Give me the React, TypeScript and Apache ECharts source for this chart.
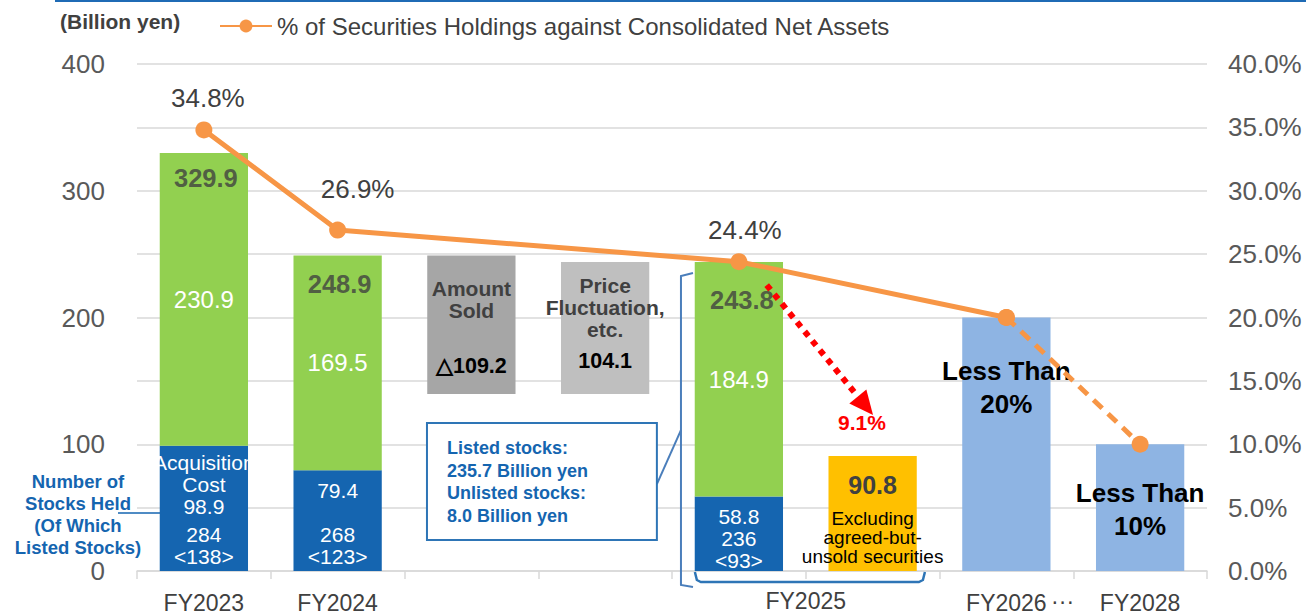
import React, { useEffect, useRef } from 'react';
import * as echarts from 'echarts';

// ---------- data ----------
const categories = ['FY2023', 'FY2024', 'Amount Sold', 'Price Fluctuation', 'FY2025', 'FY2025 Excluding', 'FY2026', 'FY2028'];
const axisLabelNames = ['FY2023', 'FY2024', '', '', '', '', 'FY2026', 'FY2028'];
const acquisitionCost = [98.9, 79.4, null, null, 58.8, null, null, null];
const unrealizedGain = [230.9, 169.5, null, null, 184.9, null, null, null];
const totalHoldings = [329.9, 248.9, null, null, 243.8, null, null, null];
const stocksHeld = [284, 268, null, null, 236, null, null, null];
const listedStocksHeld = [138, 123, null, null, 93, null, null, null];
const waterfallBase = [null, null, 139.7, 139.7, null, null, null, null];
const waterfallChange = [null, null, 109.2, 104.1, null, null, null, null];
const targetBars = [null, null, null, null, null, 90.8, 200, 100];
const holdingRatio = [34.8, 26.9, null, null, 24.4, null, 20.0, null];
const targetRatio = [null, null, null, null, null, null, 20.0, 10.0];
const leftTickLabels = [0, 100, 200, 300, 400];
const listedStocksValue = 235.7;
const unlistedStocksValue = 8.0;
const excludingRatio = 9.1;

const LEGEND_NAME = '% of Securities Holdings against Consolidated Net Assets';
const FONT = "'Liberation Sans', Arial, sans-serif";
const C_BLUE = '#1565B0';
const C_GREEN = '#92D050';
const C_GRAY_D = '#A6A6A6';
const C_GRAY_L = '#BFBFBF';
const C_ORANGE_BAR = '#FFC000';
const C_LIGHT_BLUE = '#8EB4E3';
const C_LINE = '#F79646';
const C_TEXT = '#404040';
const C_AXIS = '#595959';
const C_GRID = '#D9D9D9';

function buildOption() {
  const blueRich = {
    w: { color: '#fff', fontSize: 21, lineHeight: 22, fontFamily: FONT },
    s: { fontSize: 6, lineHeight: 6 },
  };
  const blueFormatters: Record<number, string> = {
    0: `{w|Acquisition}\n{w|Cost}\n{w|${acquisitionCost[0]}}\n{s| }\n{w|${stocksHeld[0]}}\n{w|<${listedStocksHeld[0]}>}`,
    1: `{w|${acquisitionCost[1]}}\n{w| }\n{w|${stocksHeld[1]}}\n{w|<${listedStocksHeld[1]}>}`,
    4: `{w|${acquisitionCost[4]}}\n{w|${stocksHeld[4]}}\n{w|<${listedStocksHeld[4]}>}`,
  };
  const blueData = acquisitionCost.map((v, i) =>
    v == null
      ? null
      : {
          value: v,
          label: {
            show: true,
            position: 'insideBottom',
            distance: i === 4 ? 0 : 4,
            formatter: blueFormatters[i],
            rich: blueRich,
          },
        }
  );

  const greenData = unrealizedGain.map((v) =>
    v == null
      ? null
      : {
          value: v,
          label: { show: true, position: 'inside', color: '#fff', fontSize: 24, fontFamily: FONT, formatter: v.toFixed(1) },
        }
  );

  const headStyle = { fontSize: 21, fontWeight: 'bold', color: C_TEXT, lineHeight: 22, fontFamily: FONT };
  const valStyle = { fontSize: 21.5, fontWeight: 'bold', color: '#000', lineHeight: 22, fontFamily: FONT };
  const changeData = waterfallChange.map((v, i) => {
    if (v == null) return null;
    if (i === 2) {
      return {
        value: v,
        itemStyle: { color: C_GRAY_D },
        label: {
          show: true,
          position: 'insideTop',
          distance: 22,
          formatter: `{h|Amount}\n{h|Sold}\n{s|}\n{v|△${v.toFixed(1)}}`,
          rich: { h: headStyle, v: valStyle, s: { fontSize: 10, lineHeight: 33 } },
        },
      };
    }
    return {
      value: v,
      itemStyle: { color: C_GRAY_L },
      label: {
        show: true,
        position: 'insideTop',
        distance: 13,
        formatter: `{h|Price}\n{h|Fluctuation,}\n{h|etc.}\n{s|}\n{v|${v.toFixed(1)}}`,
        rich: { h: headStyle, v: valStyle, s: { fontSize: 6, lineHeight: 9 } },
      },
    };
  });

  const targetData = targetBars.map((v, i) => {
    if (v == null) return null;
    if (i === 5) {
      return {
        value: v,
        itemStyle: { color: C_ORANGE_BAR },
        label: {
          show: true,
          position: 'insideTop',
          distance: 14,
          formatter: `{v|${v.toFixed(1)}}\n{s|}\n{t|Excluding}\n{t|agreed-but-}\n{t|unsold securities}`,
          rich: {
            v: { fontSize: 25, fontWeight: 'bold', color: C_TEXT, lineHeight: 30, fontFamily: FONT },
            s: { fontSize: 6, lineHeight: 9 },
            t: { fontSize: 19, color: '#000', lineHeight: 19, fontFamily: FONT },
          },
        },
      };
    }
    const pct = targetRatio[i];
    return {
      value: v,
      itemStyle: { color: C_LIGHT_BLUE },
      label: {
        show: true,
        position: 'insideTop',
        distance: i === 6 ? 37 : 32,
        formatter: `Less Than\n${pct}%`,
        fontSize: 26,
        fontWeight: 'bold',
        color: '#000',
        lineHeight: 33,
        fontFamily: FONT,
      },
    };
  });

  const totalOffsets: Record<number, number[]> = { 0: [2, 25], 1: [2, 28], 4: [3, 38] };
  const totalData = totalHoldings.map((v, i) =>
    v == null
      ? null
      : {
          value: v,
          label: {
            show: true,
            position: 'inside',
            offset: totalOffsets[i],
            formatter: v.toFixed(1),
            fontSize: 25.5,
            fontWeight: 'bold',
            color: C_TEXT,
            fontFamily: FONT,
          },
        }
  );

  const ratioOffsets: Record<number, number[]> = { 0: [4, -32], 1: [20, -41], 4: [6, -32] };
  const ratioData = holdingRatio.map((v, i) =>
    v == null
      ? null
      : {
          value: v,
          label: ratioOffsets[i]
            ? {
                show: true,
                position: 'inside',
                offset: ratioOffsets[i],
                formatter: `${v.toFixed(1)}%`,
                fontSize: 26,
                color: C_TEXT,
                fontFamily: FONT,
              }
            : { show: false },
        }
  );

  const renderAnnotations = (params: any, api: any) => {
    const c = (x: number, y: number) => api.coord([x, y]);
    const bracketColor = '#4A7EBB';
    const braceColor = '#2E75B6';
    // left bracket around FY2025 bar
    const bracket = [c(3.657, 235.1), c(3.567, 232.7), c(3.567, -11.0), c(3.657, -12.6)];
    // bottom brace under FY2025 bars
    const brace = [c(3.671, -0.8), c(3.686, -7.1), c(3.716, -8.7), c(5.346, -8.7), c(5.376, -7.1), c(5.391, -0.8)];
    // callout box
    const b1 = c(1.668, 116.8);
    const b2 = c(3.387, 24.5);
    const conn1 = c(3.387, 68.6);
    const conn2 = c(3.567, 111.2);
    const txt = c(1.818, 106.0);
    // arrow
    const s = c(4.208, 225.6);
    const t = c(5.003, 123);
    const dx = t[0] - s[0];
    const dy = t[1] - s[1];
    const len = Math.sqrt(dx * dx + dy * dy);
    const ux = dx / len;
    const uy = dy / len;
    const headLen = 24;
    const headHalf = 11;
    const bx = t[0] - ux * headLen;
    const by = t[1] - uy * headLen;
    const pct = c(4.92, 116.8);
    const axis0 = c(4.5, 0);
    const dots = c(6.42, 0);
    return {
      type: 'group',
      children: [
        { type: 'polyline', shape: { points: bracket }, style: { stroke: bracketColor, lineWidth: 2, fill: 'none' } },
        { type: 'polyline', shape: { points: brace }, style: { stroke: braceColor, lineWidth: 2.5, fill: 'none' } },
        { type: 'line', shape: { x1: conn1[0], y1: conn1[1], x2: conn2[0], y2: conn2[1] }, style: { stroke: bracketColor, lineWidth: 2 } },
        {
          type: 'rect',
          shape: { x: b1[0], y: b1[1], width: b2[0] - b1[0], height: b2[1] - b1[1] },
          style: { fill: '#fff', stroke: braceColor, lineWidth: 2 },
        },
        {
          type: 'text',
          x: txt[0],
          y: txt[1],
          style: {
            text: `Listed stocks:\n${listedStocksValue.toFixed(1)} Billion yen\nUnlisted stocks:\n${unlistedStocksValue.toFixed(1)} Billion yen`,
            fill: C_BLUE,
            fontSize: 18,
            fontWeight: 'bold',
            fontFamily: FONT,
            lineHeight: 22.7,
            align: 'left',
            verticalAlign: 'top',
          },
        },
        {
          type: 'line',
          shape: { x1: s[0], y1: s[1], x2: bx, y2: by },
          style: { stroke: '#FF0000', lineWidth: 6, lineDash: [6, 6] },
        },
        {
          type: 'polygon',
          shape: {
            points: [
              [t[0], t[1]],
              [bx - uy * headHalf, by + ux * headHalf],
              [bx + uy * headHalf, by - ux * headHalf],
            ],
          },
          style: { fill: '#FF0000' },
        },
        {
          type: 'text',
          x: pct[0],
          y: pct[1],
          style: {
            text: `${excludingRatio}%`,
            fill: '#FF0000',
            fontSize: 21,
            fontWeight: 'bold',
            fontFamily: FONT,
            align: 'center',
            verticalAlign: 'middle',
          },
        },
        {
          type: 'text',
          x: axis0[0],
          y: axis0[1] + 30,
          style: { text: 'FY2025', fill: C_TEXT, fontSize: 23, fontFamily: FONT, align: 'center', verticalAlign: 'middle' },
        },
        {
          type: 'text',
          x: dots[0],
          y: dots[1] + 30,
          style: { text: '···', fill: C_TEXT, fontSize: 23, fontFamily: FONT, align: 'center', verticalAlign: 'middle' },
        },
      ],
    };
  };

  return {
    animation: false,
    backgroundColor: '#fff',
    textStyle: { fontFamily: FONT },
    grid: { left: 137, right: 99, top: 64, bottom: 43, containLabel: false },
    legend: {
      data: [LEGEND_NAME],
      left: 214,
      top: 9,
      itemWidth: 52,
      itemHeight: 16,
      textStyle: { fontSize: 24, color: C_TEXT, fontFamily: FONT },
    },
    xAxis: [
      {
        type: 'category',
        data: categories,
        boundaryGap: true,
        axisLine: { lineStyle: { color: C_GRID, width: 1.5 } },
        axisTick: { show: true, length: 8, interval: 0, lineStyle: { color: C_GRID, width: 1.5 } },
        axisLabel: {
          interval: 0,
          margin: 20,
          fontSize: 23,
          color: C_TEXT,
          fontFamily: FONT,
          formatter: (v: string) => axisLabelNames[categories.indexOf(v)] || '',
        },
      },
      { type: 'value', min: -0.5, max: 7.5, show: false },
    ],
    yAxis: [
      {
        type: 'value',
        min: 0,
        max: 400,
        interval: 50,
        axisLine: { show: false },
        axisTick: { show: false },
        axisLabel: {
          margin: 32,
          fontSize: 26,
          color: C_AXIS,
          fontFamily: FONT,
          formatter: (v: number) => (leftTickLabels.indexOf(v) >= 0 ? String(v) : ''),
        },
        splitLine: { lineStyle: { color: C_GRID, width: 1.5 } },
      },
      {
        type: 'value',
        min: 0,
        max: 40,
        interval: 5,
        axisLine: { show: false },
        axisTick: { show: false },
        splitLine: { show: false },
        axisLabel: { margin: 21, fontSize: 26, color: C_AXIS, fontFamily: FONT, formatter: (v: number) => `${v.toFixed(1)}%` },
      },
    ],
    series: [
      {
        name: 'base',
        type: 'bar',
        stack: 'holdings',
        barWidth: '66%',
        data: waterfallBase,
        itemStyle: { color: 'transparent' },
        silent: true,
      },
      { name: 'Acquisition Cost', type: 'bar', stack: 'holdings', barWidth: '66%', data: blueData, itemStyle: { color: C_BLUE } },
      { name: 'Unrealized Gain', type: 'bar', stack: 'holdings', barWidth: '66%', data: greenData, itemStyle: { color: C_GREEN } },
      { name: 'Change', type: 'bar', stack: 'holdings', barWidth: '66%', data: changeData },
      { name: 'Target', type: 'bar', stack: 'holdings', barWidth: '66%', data: targetData },
      {
        name: 'Total',
        type: 'scatter',
        data: totalData,
        symbolSize: 1,
        itemStyle: { color: 'transparent' },
        z: 4,
      },
      {
        name: LEGEND_NAME,
        type: 'line',
        yAxisIndex: 1,
        data: ratioData,
        connectNulls: true,
        symbol: 'circle',
        symbolSize: 17,
        lineStyle: { color: C_LINE, width: 5 },
        itemStyle: { color: C_LINE },
        z: 6,
      },
      {
        name: 'Target Ratio',
        type: 'line',
        yAxisIndex: 1,
        data: targetRatio,
        symbol: 'circle',
        symbolSize: 17,
        lineStyle: { color: C_LINE, width: 5, type: [12, 8] },
        itemStyle: { color: C_LINE },
        z: 6,
      },
      {
        name: 'Annotations',
        type: 'custom',
        xAxisIndex: 1,
        yAxisIndex: 0,
        data: [[0, 0]],
        clip: false,
        silent: true,
        z: 5,
        renderItem: renderAnnotations,
      },
    ],
    graphic: [
      { type: 'rect', left: 55, top: 0, shape: { width: 1251, height: 2 }, style: { fill: '#1F6BB5' } },
      {
        type: 'text',
        left: 60,
        top: 11,
        style: { text: '(Billion yen)', fill: C_TEXT, fontSize: 21, fontWeight: 'bold', fontFamily: FONT },
      },
      {
        type: 'text',
        x: 78,
        y: 514,
        style: {
          text: 'Number of\nStocks Held\n(Of Which\nListed Stocks)',
          fill: C_BLUE,
          fontSize: 18.5,
          fontWeight: 'bold',
          fontFamily: FONT,
          lineHeight: 22,
          align: 'center',
          verticalAlign: 'middle',
        },
      },
      { type: 'line', shape: { x1: 118, y1: 513, x2: 167, y2: 513 }, style: { stroke: C_BLUE, lineWidth: 1.5 } },
    ],
  };
}

export default function App() {
  const ref = useRef<HTMLDivElement>(null);
  useEffect(() => {
    if (!ref.current) return;
    const chart = echarts.init(ref.current, undefined, { renderer: 'svg' });
    chart.setOption(buildOption() as any);
    return () => chart.dispose();
  }, []);
  return <div ref={ref} style={{ position: 'fixed', left: 0, top: 0, width: 1306, height: 614 }} />;
}
